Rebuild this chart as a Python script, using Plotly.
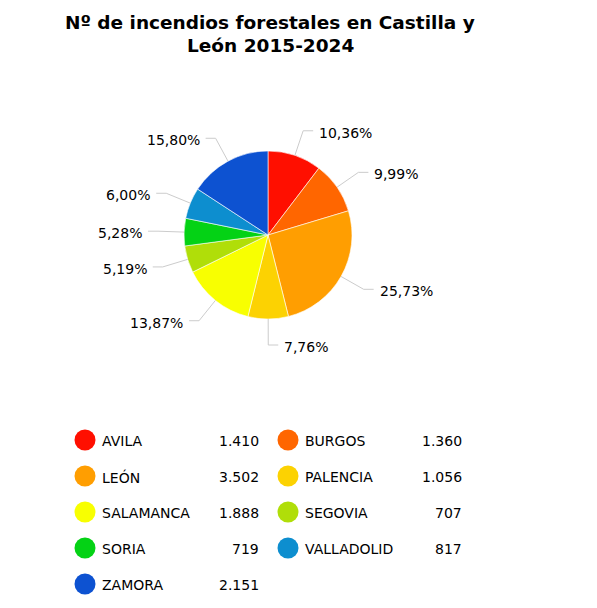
import math
import plotly.graph_objects as go

W, H = 597, 608
OFF = 8  # page body margin in the browser

# data
provincias = ["AVILA", "BURGOS", "LEÓN", "PALENCIA", "SALAMANCA",
              "SEGOVIA", "SORIA", "VALLADOLID", "ZAMORA"]
incendios = [1410, 1360, 3502, 1056, 1888, 707, 719, 817, 2151]
colores = ["#FF0F00", "#FF6600", "#FF9E01", "#FCD202", "#F8FF01",
           "#B0DE09", "#04D215", "#0D8ECF", "#0D52D1"]
titulo = ["Nº de incendios forestales en Castilla y", "León 2015-2024"]

FONT = "DejaVu Sans, Verdana, sans-serif"

# pie geometry in pixels (page coordinates)
cx, cy, r = 268, 235, 84
r_elbow = 110

fig = go.Figure()

fig.add_trace(go.Pie(
    labels=provincias,
    values=incendios,
    marker=dict(colors=colores, line=dict(color="white", width=0.6)),
    sort=False,
    direction="clockwise",
    rotation=0,
    textinfo="none",
    hoverinfo="label+value+percent",
    showlegend=False,
    domain=dict(x=[(cx - OFF - r) / W, (cx - OFF + r) / W],
                y=[1 - (cy - OFF + r) / H, 1 - (cy - OFF - r) / H]),
))

# outside labels with leader lines (angles from cumulative data)
total = sum(incendios)
shapes = []
annotations = []
acc = 0
for v in incendios:
    frac = v / total
    theta = 2 * math.pi * (acc + frac / 2)
    acc += frac
    sx, sy = math.sin(theta), -math.cos(theta)
    x0, y0 = cx + r * sx, cy + r * sy
    x1, y1 = cx + r_elbow * sx, cy + r_elbow * sy
    side = 1 if sx >= -1e-9 else -1
    x2 = x1 + side * 10
    shapes.append(dict(type="path", xref="x", yref="y",
                       path=f"M{x0},{y0} L{x1},{y1} L{x2},{y1}",
                       line=dict(color="#cccccc", width=1)))
    txt = f"{frac * 100:.2f}".replace(".", ",") + "%"
    annotations.append(dict(x=x2 + side * 4, y=y1 + 2, xref="x", yref="y",
                            text=txt, showarrow=False,
                            xanchor="left" if side > 0 else "right",
                            yanchor="middle",
                            font=dict(size=14, color="#000000", family=FONT)))

# custom two-column legend
leg_x, leg_y, col_w, row_h = 85, 440, 203, 36
mx, my = [], []
for i, (name, v) in enumerate(zip(provincias, incendios)):
    col, row = i % 2, i // 2
    x = leg_x + col * col_w
    y = leg_y + row * row_h
    mx.append(x)
    my.append(y)
    annotations.append(dict(x=x + 15, y=y + 1, xref="x", yref="y", text=name,
                            showarrow=False, xanchor="left", yanchor="middle",
                            font=dict(size=14, color="#000000", family=FONT)))
    annotations.append(dict(x=x + 176, y=y + 1, xref="x", yref="y",
                            text=f"{v:,}".replace(",", "."),
                            showarrow=False, xanchor="right", yanchor="middle",
                            font=dict(size=14, color="#000000", family=FONT)))

fig.add_trace(go.Scatter(
    x=mx, y=my, mode="markers",
    marker=dict(size=21, color=colores, line=dict(width=0)),
    hoverinfo="skip", showlegend=False,
))

for k, line in enumerate(titulo):
    annotations.append(dict(x=270, y=22 + k * 23, xref="x", yref="y",
                            text=f"<b>{line}</b>", showarrow=False,
                            xanchor="center", yanchor="middle",
                            font=dict(size=18.5, color="#000000", family=FONT)))

fig.update_layout(
    width=W, height=H,
    margin=dict(l=0, r=0, t=0, b=0),
    paper_bgcolor="white",
    plot_bgcolor="white",
    separators=",.",
    xaxis=dict(range=[OFF, W + OFF], visible=False, fixedrange=True),
    yaxis=dict(range=[H + OFF, OFF], visible=False, fixedrange=True),
    shapes=shapes,
    annotations=annotations,
    font=dict(family=FONT),
)

fig.write_html("out.html")
